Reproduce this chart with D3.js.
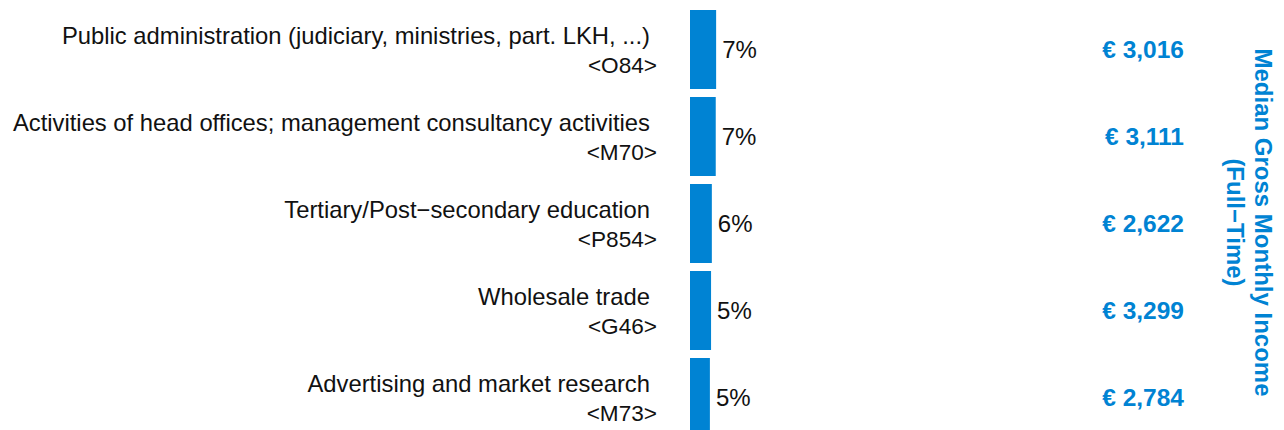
<!DOCTYPE html>
<html>
<head>
<meta charset="utf-8">
<script src="https://cdn.jsdelivr.net/npm/d3@7"></script>
<style>
  body { margin: 0; background: #fff; }
  text { font-family: "Liberation Sans", Arial, sans-serif; }
</style>
</head>
<body>
<div id="chart"></div>
<script>
// data
const categories = [
  "Public administration (judiciary, ministries, part. LKH, ...)",
  "Activities of head offices; management consultancy activities",
  "Tertiary/Post\u2212secondary education",
  "Wholesale trade",
  "Advertising and market research"
];
const codes = ["<O84>", "<M70>", "<P854>", "<G46>", "<M73>"];
const shares = [6.7, 6.6, 5.6, 5.4, 5.1];
const shareLabels = ["7%", "7%", "6%", "5%", "5%"];
const incomes = [3016, 3111, 2622, 3299, 2784];

const blue = "#0083d3";
const W = 1284, H = 430;

const svg = d3.select("#chart")
  .append("svg")
    .attr("width", W)
    .attr("height", H);

// bands: each bar 79px tall, 87px step
const y = d3.scaleBand()
  .domain(d3.range(categories.length))
  .range([6, 441])
  .paddingInner(0.092)
  .paddingOuter(0.046);

const x = d3.scaleLinear()
  .domain([0, 100])
  .range([690, 1080]);

// bars
svg.selectAll(".bar")
  .data(shares)
  .enter().append("rect")
  .attr("class", "bar")
  .attr("x", x(0))
  .attr("y", (d, i) => y(i))
  .attr("width", d => x(d) - x(0))
  .attr("height", y.bandwidth())
  .style("fill", blue);

// percent labels
svg.selectAll(".pct")
  .data(shares)
  .enter().append("text")
  .attr("class", "pct")
  .attr("x", d => x(d) + 6)
  .attr("y", (d, i) => y(i) + y.bandwidth() / 2)
  .attr("dy", "0.35em")
  .style("font-size", "24px")
  .style("fill", "#111")
  .text((d, i) => shareLabels[i]);

// category labels, two lines
const lab = svg.selectAll(".lab")
  .data(categories)
  .enter().append("text")
  .attr("class", "lab")
  .attr("text-anchor", "end")
  .style("fill", "#111");

lab.append("tspan")
  .attr("x", 650)
  .attr("y", (d, i) => y(i) + y.bandwidth() / 2 - 6)
  .style("font-size", "23.8px")
  .text(d => d);

lab.append("tspan")
  .attr("x", 657)
  .attr("y", (d, i) => y(i) + y.bandwidth() / 2 + 23)
  .style("font-size", "22.6px")
  .text((d, i) => codes[i]);

// income values
const fmt = d3.format(",");
svg.selectAll(".inc")
  .data(incomes)
  .enter().append("text")
  .attr("class", "inc")
  .attr("x", 1184)
  .attr("y", (d, i) => y(i) + y.bandwidth() / 2)
  .attr("dy", "0.35em")
  .attr("text-anchor", "end")
  .style("font-size", "24.5px")
  .style("font-weight", "bold")
  .style("fill", blue)
  .text(d => "\u20ac " + fmt(d));

// right side title, rotated
const title = svg.append("text")
  .attr("transform", `translate(1255, ${(y.range()[0] + y.range()[1]) / 2 - 1}) rotate(90)`)
  .attr("text-anchor", "middle")
  .style("font-size", "24px")
  .style("font-weight", "bold")
  .style("fill", blue);

title.append("tspan")
  .attr("x", 0).attr("y", 0)
  .text("Median Gross Monthly Income");
title.append("tspan")
  .attr("x", 0).attr("y", 28)
  .text("(Full\u2212Time)");
</script>
</body>
</html>
